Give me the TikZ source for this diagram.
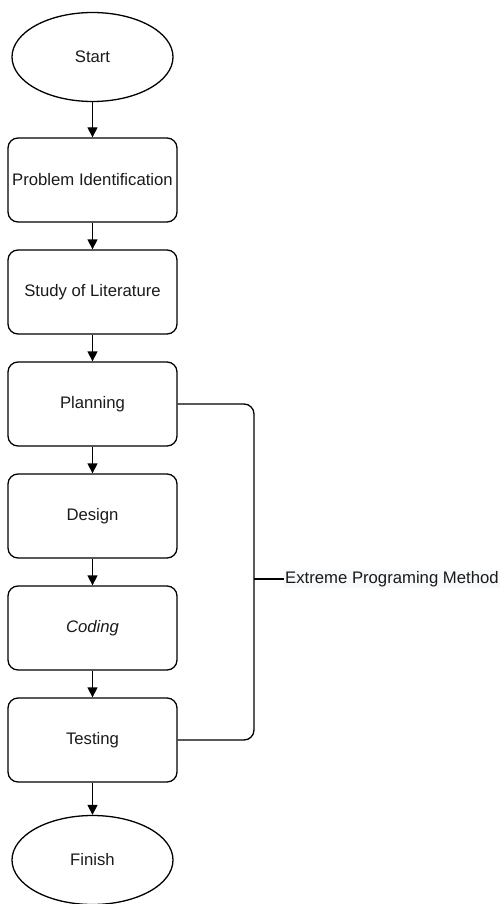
\documentclass[tikz,border=0pt]{standalone}
\usepackage{fontspec}
\setmainfont{Liberation Sans}
\usetikzlibrary{shapes.geometric,arrows.meta}

\definecolor{inkgray}{HTML}{1A1A1A}
\definecolor{labelbg}{HTML}{F8F9FA}

\tikzset{
  base/.style={draw=black, line width=1.3pt, text=inkgray,
    font=\fontsize{16.7}{20}\selectfont, inner sep=0pt},
  stepbox/.style={base, rectangle, rounded corners=10pt,
    minimum width=169pt, minimum height=84pt},
  terminal/.style={base, ellipse, minimum width=161pt, minimum height=89pt},
  flow/.style={draw=black, line width=1.3pt,
    -{Triangle[length=10pt,width=10pt]}},
  bracket/.style={draw=black, line width=1.3pt, rounded corners=10pt},
}

\begin{document}
\begin{tikzpicture}[x=1pt, y=-1pt]
  \useasboundingbox (0,0) rectangle (500,904);

  % process steps
  \node[terminal] (start)   at (92.5,57)  {Start};
  \node[stepbox]  (problem) at (92.5,180) {Problem Identification};
  \node[stepbox]  (study)   at (92.5,292) {Study of Literature};
  \node[stepbox]  (plan)    at (92.5,404) {Planning};
  \node[stepbox]  (design)  at (92.5,516) {Design};
  \node[stepbox]  (coding)  at (92.5,628) {\itshape Coding};
  \node[stepbox]  (testing) at (92.5,740) {Testing};
  \node[terminal] (finish)  at (92.5,860) {Finish};

  % sequence arrows
  \draw[flow] (start)   -- (problem);
  \draw[flow] (problem) -- (study);
  \draw[flow] (study)   -- (plan);
  \draw[flow] (plan)    -- (design);
  \draw[flow] (design)  -- (coding);
  \draw[flow] (coding)  -- (testing);
  \draw[flow] (testing) -- (finish);

  % bracket grouping the XP phases
  \coordinate (tick) at (254,579);
  \draw[bracket] (plan.east) -- (254,404) -- (254,740) -- (testing.east);
  \node[anchor=west, fill=labelbg, text=inkgray, inner sep=1pt,
        font=\fontsize{16.7}{20}\selectfont] (xp) at (284,579)
        {Extreme Programing Method};
  \draw[line width=1.3pt] (tick) -- (xp.west);
\end{tikzpicture}
\end{document}
